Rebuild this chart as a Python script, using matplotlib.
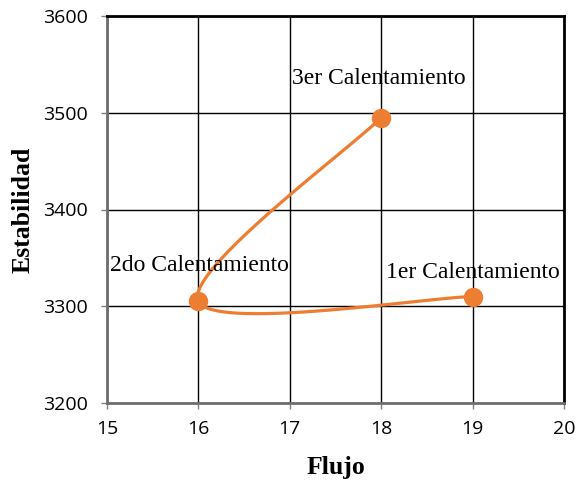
import numpy as np
import matplotlib
matplotlib.use("Agg")
import matplotlib.pyplot as plt

# Marshall test results per heating cycle
labels = ["1er Calentamiento", "2do Calentamiento", "3er Calentamiento"]
flujo = [19, 16, 18]
estabilidad = [3310, 3305, 3495]

x_ticks = [15, 16, 17, 18, 19, 20]
y_ticks = [3200, 3300, 3400, 3500, 3600]

ORANGE = "#ED7D31"

fig = plt.figure(figsize=(5.77, 4.84), dpi=100)
ax = fig.add_axes([107 / 577, 1 - 403 / 484, (564 - 107) / 577, (403 - 16) / 484])
ax.set_xlim(15, 20)
ax.set_ylim(3200, 3600)


def smooth_path(ax, xs, ys, n=60):
    """Catmull-Rom style Bezier smoothing computed in display space."""
    pts = ax.transData.transform(np.column_stack([xs, ys]))
    ext = np.vstack([pts[0], pts, pts[-1]])
    out = []
    t = np.linspace(0, 1, n)[:, None]
    for i in range(1, len(ext) - 2):
        p0, p1, p2, p3 = ext[i - 1], ext[i], ext[i + 1], ext[i + 2]
        c1 = p1 + (p2 - p0) / 6
        c2 = p2 - (p3 - p1) / 6
        seg = ((1 - t) ** 3) * p1 + 3 * ((1 - t) ** 2) * t * c1 + 3 * (1 - t) * t ** 2 * c2 + t ** 3 * p2
        out.append(seg)
    curve = np.vstack(out)
    data = ax.transData.inverted().transform(curve)
    return data[:, 0], data[:, 1]


cx, cy = smooth_path(ax, flujo, estabilidad)
ax.plot(cx, cy, color=ORANGE, lw=2.3, solid_capstyle="round", zorder=3)
ax.plot(flujo, estabilidad, "o", color=ORANGE, ms=13, zorder=4)

# point labels
serif = "Liberation Serif"
label_offsets = [(0, 17), (1, 26), (-2, 28)]
for name, x, y, off in zip(labels, flujo, estabilidad, label_offsets):
    ax.annotate(name, (x, y), xytext=off, textcoords="offset points",
                ha="center", va="center", fontsize=17, family=serif)

ax.set_xticks(x_ticks)
ax.set_yticks(y_ticks)
ax.set_xticklabels([str(v) for v in x_ticks], family="Open Sans", fontsize=14)
ax.set_yticklabels([str(v) for v in y_ticks], family="Open Sans", fontsize=14)
ax.tick_params(direction="out", length=4, width=1, color="#808080", pad=10)
ax.tick_params(axis="x", pad=8)

ax.grid(True, color="black", lw=1)
ax.set_axisbelow(True)

for side in ["top", "right"]:
    ax.spines[side].set_color("black")
    ax.spines[side].set_linewidth(2)
for side in ["left", "bottom"]:
    ax.spines[side].set_color("#6e6e6e")
    ax.spines[side].set_linewidth(2)

ax.set_xlabel("Flujo", family=serif, fontweight="bold", fontsize=18.5, labelpad=13)
ax.set_ylabel("Estabilidad", family=serif, fontweight="bold", fontsize=18.5, labelpad=6)

fig.savefig("out.png", dpi=100)
